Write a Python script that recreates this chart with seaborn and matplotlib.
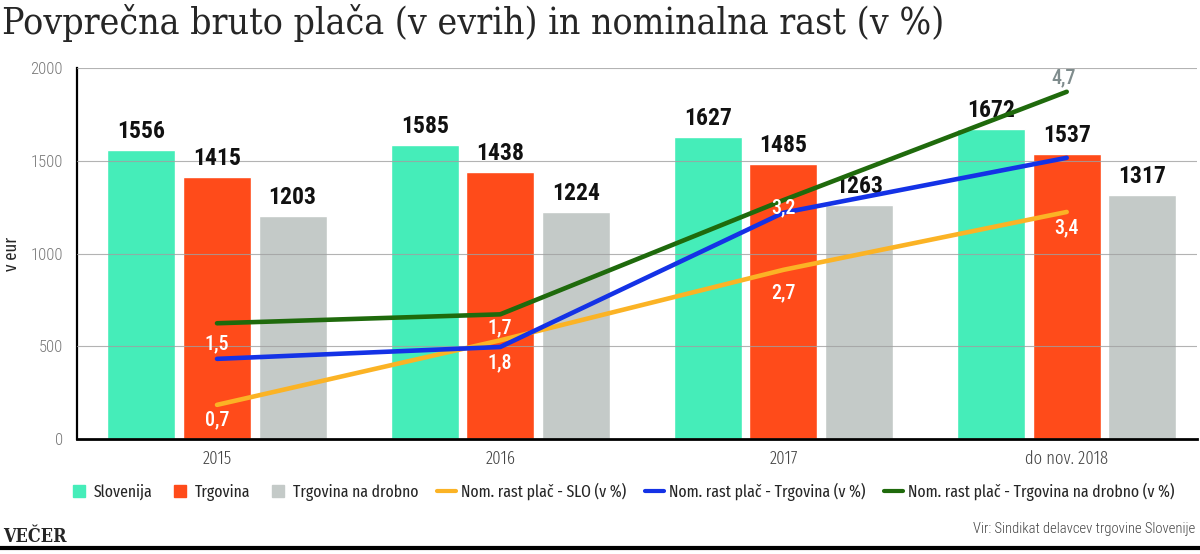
import numpy as np
import pandas as pd
import seaborn as sns
import matplotlib.pyplot as plt
from matplotlib.lines import Line2D

# data
years = ["2015", "2016", "2017", "do nov. 2018"]
slovenija = [1556, 1585, 1627, 1672]
trgovina = [1415, 1438, 1485, 1537]
drobno = [1203, 1224, 1263, 1317]

# growth lines (v %), positions as drawn in the graphic
rast_slo = [0.46, 1.33, 2.28, 3.06]
rast_trg = [1.08, 1.24, 3.05, 3.79]
rast_drob = [1.56, 1.68, 3.22, 4.68]

# labels printed next to the lines
lab_slo = ["0,7", "1,8", "2,7", "3,4"]
lab_drob = ["1,5", "1,7", "3,2", "4,7"]

bar_names = ["Slovenija", "Trgovina", "Trgovina na drobno"]
bar_colors = ["#45EDB9", "#FF4B1A", "#C4CAC8"]
line_names = ["Nom. rast plač - SLO (v %)", "Nom. rast plač - Trgovina (v %)",
              "Nom. rast plač - Trgovina na drobno (v %)"]
line_colors = ["#FBB325", "#1432E6", "#1F6A0C"]

sns.set_style("white")
plt.rcParams["font.family"] = ["Roboto Condensed", "DejaVu Sans"]
fira = ["Fira Sans Extra Condensed", "Fira Sans Condensed", "DejaVu Sans"]

bars_df = pd.DataFrame({
    "leto": years * 3,
    "serija": [n for n in bar_names for _ in years],
    "vrednost": slovenija + trgovina + drobno,
})

fig = plt.figure(figsize=(12, 5.54), dpi=100)
ax = fig.add_axes([0.064, 0.2076, 0.9335, 0.6696])

sns.barplot(data=bars_df, x="leto", y="vrednost", hue="serija", palette=bar_colors,
            saturation=1, width=0.8, gap=0.1, ax=ax, legend=False, zorder=2)

for cont in ax.containers:
    ax.bar_label(cont, labels=[f"{int(v)}" for v in cont.datavalues], padding=5,
                 fontsize=17, fontweight="bold", color="#111111")

ax.set_ylim(0, 2000)
ax.set_xlim(-0.495, 3.46)
ax.set_yticks([0, 500, 1000, 1500, 2000])
ax.yaxis.grid(True, color="#a0a0a0", lw=0.8, alpha=0.8, zorder=3)
ax.set_axisbelow(False)
for s in ["top", "right"]:
    ax.spines[s].set_visible(False)
ax.spines["left"].set_color("black")
ax.spines["left"].set_linewidth(1.6)
ax.spines["bottom"].set_color("black")
ax.spines["bottom"].set_linewidth(2.0)
ax.tick_params(axis="y", length=0, labelsize=12, labelcolor="#777777", pad=10)
ax.tick_params(axis="x", length=0, labelsize=13, labelcolor="#444444", pad=8)
for t in ax.get_yticklabels():
    t.set_fontweight(300)
for t in ax.get_xticklabels():
    t.set_family(fira)
    t.set_fontweight(300)
ax.set_xlabel("")
ax.set_ylabel("v eur", fontsize=13, family=fira)
ax.yaxis.set_label_coords(-0.05, 0.5)

# growth lines on a hidden second axis
ax2 = ax.twinx()
ax2.set_ylim(0, 5)
pos = np.arange(len(years))
for vals, col in zip([rast_slo, rast_trg, rast_drob], line_colors):
    sns.lineplot(x=pos, y=vals, color=col, lw=3.3, ax=ax2, zorder=5)
ax2.set_xlim(-0.495, 3.46)
ax2.set_yticks([])
ax2.set_ylabel("")
for s in ax2.spines.values():
    s.set_visible(False)

# label anchors: SLO labels sit under the yellow line (2016 one under the blue line)
slo_anchor = [rast_slo[0], rast_trg[1], rast_slo[2], rast_slo[3]]
slo_off = [-11, -11.5, -16.5, -11.5]
drob_off = [-14.5, -10, -5.5, 10]
drob_col = ["white", "white", "white", "#7F8C8D"]
lab_kw = dict(fontsize=14.5, fontweight=500, ha="center", va="center",
              textcoords="offset points", zorder=6)
for i in range(len(years)):
    ax2.annotate(lab_slo[i], (pos[i], slo_anchor[i]), xytext=(0, slo_off[i]),
                 color="white", **lab_kw)
    ax2.annotate(lab_drob[i], (pos[i], rast_drob[i]), xytext=(-2 if i == 3 else 0, drob_off[i]),
                 color=drob_col[i], **lab_kw)

# legend
handles = [Line2D([], [], marker="s", ls="none", markersize=8.5, color=c) for c in bar_colors]
handles += [Line2D([], [], lw=3, color=c) for c in line_colors]
fig.legend(handles, bar_names + line_names, loc="center left", bbox_to_anchor=(0.045, 0.112),
           ncol=6, frameon=False, handlelength=1.1, handletextpad=0.3, columnspacing=1.1,
           prop={"family": fira, "size": 12.3})

fig.text(0.002, 0.958, "Povprečna bruto plača (v evrih) in nominalna rast (v %)",
         fontsize=26.8, family=["DejaVu Serif", "DejaVu Sans"], fontstretch="condensed",
         va="center", ha="left")
fig.text(0.003, 0.03, "VEČER", fontsize=13, fontweight="bold", fontstretch="condensed",
         family=["DejaVu Serif", "DejaVu Sans"], va="center", ha="left")
fig.text(0.996, 0.045, "Vir: Sindikat delavcev trgovine Slovenije", fontsize=10.5,
         fontweight=300, color="#444444", va="center", ha="right")
fig.add_artist(Line2D([0, 1], [0.011, 0.011], color="black", lw=3, transform=fig.transFigure))

fig.savefig("out.png", dpi=100)
